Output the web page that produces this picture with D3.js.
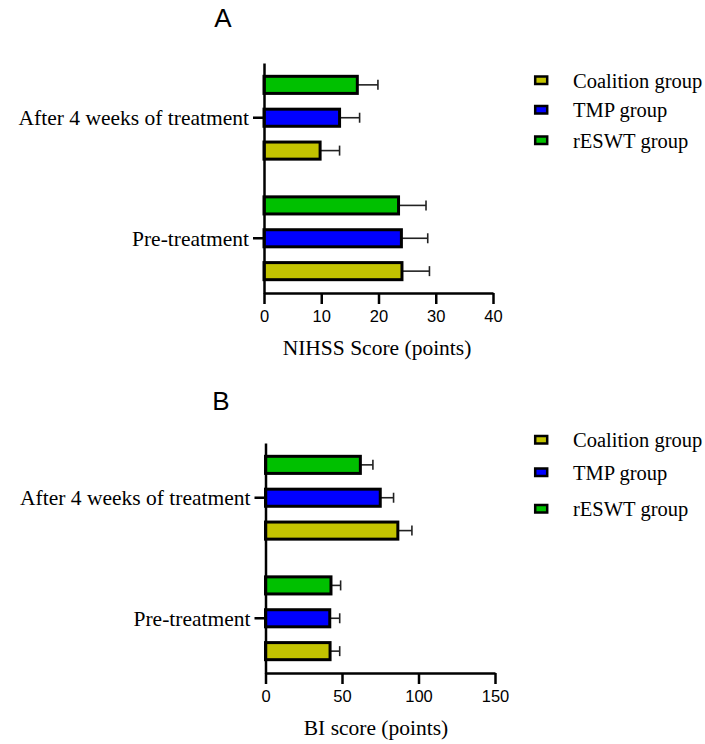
<!DOCTYPE html>
<meta charset="utf-8">
<style>
  body { margin: 0; background: #fff; }
  svg text { fill: #000; }
</style>
<body>
<div id="chart"></div>
<script src="https://d3js.org/d3.v7.min.js"></script>
<script>

// categories and groups
var categories = ["After 4 weeks of treatment", "Pre-treatment"];
var groups = ["Coalition group", "TMP group", "rESWT group"];
var groupColors = ["#c3c300", "#0000ff", "#00c000"];

// panel A - NIHSS score, mean and SD per group (Coalition, TMP, rESWT)
var nihssAfter = [9.8, 13.2, 16.3];
var nihssAfterSD = [3.4, 3.5, 3.6];
var nihssPre = [24.1, 24.0, 23.5];
var nihssPreSD = [4.8, 4.6, 4.8];
var nihssTicks = [0, 10, 20, 30, 40];

// panel B - BI score
var biAfter = [86.5, 75.0, 62.0];
var biAfterSD = [9.2, 8.7, 8.2];
var biPre = [42.2, 42.0, 42.8];
var biPreSD = [6.3, 6.5, 6.3];
var biTicks = [0, 50, 100, 150];

var serif = "'Liberation Serif', 'Times New Roman', serif";
var sans = "'Liberation Sans', Arial, sans-serif";

var svg = d3.select("#chart")
  .append("svg")
    .attr("width", 705)
    .attr("height", 744);

function panel(opt) {
  var rows = [
    {cat: categories[0], means: opt.after, sds: opt.afterSD},
    {cat: categories[1], means: opt.pre, sds: opt.preSD}
  ];

  var x = d3.scaleLinear()
    .domain([opt.ticks[0], opt.ticks[opt.ticks.length - 1]])
    .range(opt.xRange);

  var y0 = d3.scaleBand()
    .domain(categories)
    .range(opt.yRange)
    .paddingInner(0.182)
    .paddingOuter(0.045);

  // top to bottom inside a group: rESWT, TMP, Coalition
  var y1 = d3.scaleBand()
    .domain(groups.slice().reverse())
    .range([0, y0.bandwidth()])
    .paddingInner(0.48)
    .paddingOuter(0.24);

  var g = svg.append("g");

  // bars
  var rowG = g.selectAll(".row")
    .data(rows)
    .enter().append("g")
      .attr("transform", function(d) { return "translate(0," + y0(d.cat) + ")"; });

  var items = rowG.selectAll(".item")
    .data(function(d) {
      return groups.map(function(k, i) { return {key: k, i: i, mean: d.means[i], sd: d.sds[i]}; });
    })
    .enter().append("g");

  // error bars (drawn first, bar covers the start)
  items.append("line")
    .attr("x1", function(d) { return x(d.mean); })
    .attr("x2", function(d) { return x(d.mean + d.sd); })
    .attr("y1", function(d) { return y1(d.key) + y1.bandwidth() / 2; })
    .attr("y2", function(d) { return y1(d.key) + y1.bandwidth() / 2; })
    .attr("stroke", "#222")
    .attr("stroke-width", 1.6);
  items.append("line")
    .attr("x1", function(d) { return x(d.mean + d.sd); })
    .attr("x2", function(d) { return x(d.mean + d.sd); })
    .attr("y1", function(d) { return y1(d.key) + y1.bandwidth() / 2 - 5; })
    .attr("y2", function(d) { return y1(d.key) + y1.bandwidth() / 2 + 5; })
    .attr("stroke", "#222")
    .attr("stroke-width", 1.6);

  items.append("rect")
    .attr("x", x(0))
    .attr("y", function(d) { return y1(d.key); })
    .attr("width", function(d) { return x(d.mean) - x(0); })
    .attr("height", y1.bandwidth())
    .attr("fill", function(d) { return groupColors[d.i]; })
    .attr("stroke", "#000")
    .attr("stroke-width", 3);

  // x axis
  var xAxis = g.append("g")
    .attr("transform", "translate(0," + opt.yRange[1] + ")")
    .call(d3.axisBottom(x).tickValues(opt.ticks).tickSize(11).tickSizeOuter(0).tickPadding(6));
  xAxis.selectAll("path, line").attr("stroke", "#000").attr("stroke-width", 2.5);
  xAxis.selectAll("text").attr("font-family", sans).attr("font-size", 16.5).attr("fill", "#000");

  // y axis
  var yAxis = g.append("g")
    .attr("transform", "translate(" + opt.xRange[0] + ",0)")
    .call(d3.axisLeft(y0).tickSize(11).tickSizeOuter(0).tickPadding(4));
  yAxis.selectAll("path, line").attr("stroke", "#000").attr("stroke-width", 2.5);
  yAxis.selectAll("text").attr("font-family", serif).attr("font-size", 21.5).attr("fill", "#000")
    .attr("dy", "0.36em");

  // axis title
  g.append("text")
    .attr("x", opt.titleX)
    .attr("y", opt.titleY)
    .attr("text-anchor", "middle")
    .attr("font-family", serif)
    .attr("font-size", 21.5)
    .text(opt.xTitle);

  // panel letter
  g.append("text")
    .attr("x", opt.letterX)
    .attr("y", opt.letterY)
    .attr("text-anchor", "middle")
    .attr("font-family", sans)
    .attr("font-size", 26)
    .text(opt.letter);

  // legend
  var leg = g.selectAll(".leg")
    .data(groups)
    .enter().append("g")
      .attr("transform", function(d, i) { return "translate(534," + opt.legendY[i] + ")"; });
  leg.append("rect")
    .attr("x", 1.2).attr("y", -4)
    .attr("width", 12).attr("height", 7.5)
    .attr("fill", function(d, i) { return groupColors[i]; })
    .attr("stroke", "#000")
    .attr("stroke-width", 2.5);
  leg.append("text")
    .attr("x", 39)
    .attr("y", 7)
    .attr("font-family", serif)
    .attr("font-size", 20.5)
    .text(function(d) { return d; });
}

panel({
  after: nihssAfter, afterSD: nihssAfterSD, pre: nihssPre, preSD: nihssPreSD,
  ticks: nihssTicks, xRange: [264, 493], yRange: [63, 293],
  xTitle: "NIHSS Score (points)", titleX: 377, titleY: 355,
  letter: "A", letterX: 223, letterY: 27,
  legendY: [80.5, 110, 140.5]
});

panel({
  after: biAfter, afterSD: biAfterSD, pre: biPre, preSD: biPreSD,
  ticks: biTicks, xRange: [265.5, 495], yRange: [443, 673],
  xTitle: "BI score (points)", titleX: 376, titleY: 735,
  letter: "B", letterX: 221, letterY: 410,
  legendY: [440, 472.5, 509]
});

</script>
</body>
